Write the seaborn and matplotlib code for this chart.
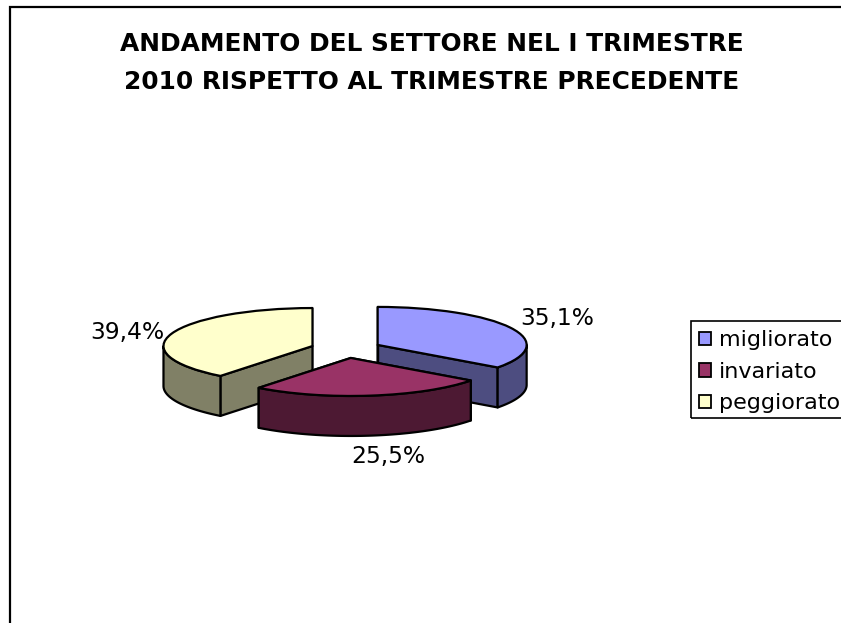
import numpy as np
import matplotlib
matplotlib.use("Agg")
import matplotlib.pyplot as plt
from matplotlib.patches import Polygon, Rectangle, Patch
import seaborn as sns

categories = ["migliorato", "invariato", "peggiorato"]
values = [35.1, 25.5, 39.4]
value_labels = ["35,1%", "25,5%", "39,4%"]
top_colors = ["#9999FF", "#993366", "#FFFFCC"]
side_colors = ["#4D4D80", "#4D1933", "#808066"]
title_text = "ANDAMENTO DEL SETTORE NEL I TRIMESTRE\n2010 RISPETTO AL TRIMESTRE PRECEDENTE"

W, H = 841, 623
CX, CY, RX, RY, DEPTH = 346.0, 349.0, 149.0, 38.0, 40.0
EXPLODE = 0.238
label_px = [(557, 318), (388, 457), (127, 332)]
draw_order = [0, 2, 1]

sns.set_theme(style="white")
plt.rcParams["font.family"] = ["DejaVu Sans"]
plt.rcParams["text.color"] = "black"

fig = plt.figure(figsize=(W / 100, H / 100), dpi=100, facecolor="white")
ax = fig.add_axes([0, 0, 1, 1])
wedges, _ = ax.pie(values, colors=top_colors, startangle=90, counterclock=False,
                   explode=[EXPLODE] * len(values), frame=False,
                   wedgeprops=dict(edgecolor="black", linewidth=1.6, joinstyle="round"))
ax.set_aspect("auto")
ax.set_xlim((0 - CX) / RX, (W - CX) / RX)
ax.set_ylim((CY - H) / RY, (CY - 0) / RY)
ax.axis("off")

d = DEPTH / RY
edge = dict(edgecolor="black", linewidth=1.6, joinstyle="round")
for rank, i in enumerate(draw_order):
    w = wedges[i]
    base = 2 + rank * 3
    w.set_zorder(base + 2)
    cx, cy = w.center
    for th in (w.theta1, w.theta2):
        x = cx + np.cos(np.radians(th))
        y = cy + np.sin(np.radians(th))
        ax.add_patch(Polygon([(cx, cy), (x, y), (x, y - d), (cx, cy - d)], closed=True,
                             facecolor=side_colors[i], zorder=base, **edge))
    a, b = max(w.theta1, -180), min(w.theta2, 0)
    if b > a:
        t = np.radians(np.linspace(a, b, 60))
        xs, ys = cx + np.cos(t), cy + np.sin(t)
        pts = np.r_[np.c_[xs, ys], np.c_[xs, ys - d][::-1]]
        ax.add_patch(Polygon(pts, closed=True, facecolor=side_colors[i], zorder=base + 1, **edge))

for (px, py), s in zip(label_px, value_labels):
    fig.text(px / W, 1 - py / H, s, ha="center", va="center", fontsize=16.8, color="black")

fig.text(432 / W, 1 - 63 / H, title_text, ha="center", va="center", fontsize=17.9,
         fontweight="bold", color="black", linespacing=1.75)

handles = [Patch(facecolor=c, edgecolor="black", linewidth=1.3) for c in top_colors]
leg = fig.legend(handles, categories, loc="upper left", bbox_to_anchor=(688.5 / W, 1 - 320.5 / H),
                 fontsize=16, frameon=False, labelcolor="black",
                 handlelength=0.55, handleheight=0.55, handletextpad=0.36, labelspacing=0.51,
                 borderpad=0.45, borderaxespad=0)

fig.add_artist(Rectangle((690.5 / W, 1 - 417.5 / H), 200 / W, 97 / H, transform=fig.transFigure,
                         fill=False, edgecolor="black", linewidth=1.2))
fig.add_artist(Rectangle((10 / W, -0.1), 1.2, 1.1 - 7 / H, transform=fig.transFigure,
                         fill=False, edgecolor="black", linewidth=1.6))

fig.savefig("out.png", dpi=100)
